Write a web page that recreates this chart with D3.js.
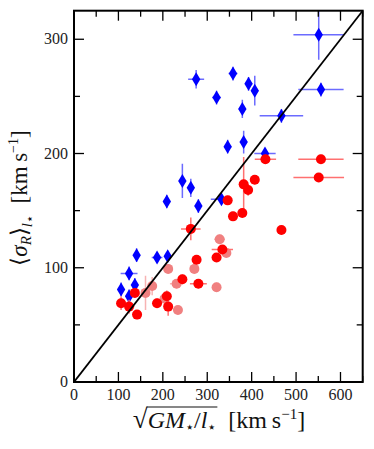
<!DOCTYPE html>
<html><head><meta charset="utf-8">
<script src="https://cdn.jsdelivr.net/npm/d3@7"></script>
<style>
body{margin:0;background:#fff}
svg{display:block}
svg text{font-family:"Liberation Serif",serif}
</style>
</head><body>
<svg id="c" width="374" height="449"></svg>
<script>
// Blue diamonds
const blueX    = [551,556,467,430,358,393,407,321,275,379,382,346,332,244,263,280,209,141,187,211,124,106,137,124];
const blueY    = [304,256,233,200,270,261,255,249,265,239,210,206,160,176,170,154,158,111,109,110,95,81,85,75];
const blueXerr = [57,51,49,24,10,8,8,10,18,8,6,8,24,8,6,8,4,4,12,6,19,4,6,4];
const blueYerr = [22,6,6,4,6,6,13,6,8,8,10,6,4,15,8,6,6,6,4,4,6,6,6,6];
// Red circles
const redX    = [556,551,431,407,382,392,346,379,358,467,263,334,321,276,280,244,187,209,212,137,106,124,142];
const redY    = [195,179,195,177,173,168,159,148,145,133,134,116,109,107,86,90,69,75,66,78,69,66,59];
const redXerr = [51,57,24,8,6,6,8,10,10,10,22,24,8,6,19,10,8,6,6,6,6,12,6];
const redYerr = [4,4,4,4,24,5,4,4,4,4,10,4,4,4,4,4,4,5,8,4,6,6,4];
// Light red circles
const pinkX    = [328,343,321,271,212,231,234,204,176,161];
const pinkY    = [125,113,83,99,99,86,63,73,84,78];
const pinkXerr = [12,6,4,10,4,15,4,6,8,10];
const pinkYerr = [4,4,4,4,4,4,4,6,8,15];

const xTicks = [0,100,200,300,400,500,600];
const yTicks = [0,100,200,300];
const xDomain = [0,650], yDomain = [0,325];

const svg = d3.select("#c");
const L = 74, R = 362.7, T = 10.7, B = 382;
const x = d3.scaleLinear().domain(xDomain).range([L,R]);
const y = d3.scaleLinear().domain(yDomain).range([B,T]);
const FF = "Liberation Serif";

const defs = svg.append("defs");
defs.append("clipPath").attr("id","clip").append("rect")
  .attr("x",L).attr("y",T).attr("width",R-L).attr("height",B-T);
const g = svg.append("g").attr("clip-path","url(#clip)");

function series(xs, ys, xe, ye, barColor, fill, shape){
  const d = xs.map((v,i)=>({x:v,y:ys[i],xe:xe[i],ye:ye[i]}));
  const gg = g.append("g");
  gg.selectAll(".h").data(d).enter().append("line")
    .attr("x1",p=>x(p.x-p.xe)).attr("x2",p=>x(p.x+p.xe))
    .attr("y1",p=>y(p.y)).attr("y2",p=>y(p.y))
    .attr("stroke",barColor).attr("stroke-width",1.5);
  gg.selectAll(".v").data(d).enter().append("line")
    .attr("x1",p=>x(p.x)).attr("x2",p=>x(p.x))
    .attr("y1",p=>y(p.y-p.ye)).attr("y2",p=>y(p.y+p.ye))
    .attr("stroke",barColor).attr("stroke-width",1.5);
  if(shape==="diamond"){
    gg.selectAll(".m").data(d).enter().append("path")
      .attr("d",p=>{const cx=x(p.x),cy=y(p.y);return `M${cx},${cy-7}L${cx+4.2},${cy}L${cx},${cy+7}L${cx-4.2},${cy}Z`;})
      .attr("fill",fill);
  } else {
    gg.selectAll(".m").data(d).enter().append("circle")
      .attr("cx",p=>x(p.x)).attr("cy",p=>y(p.y)).attr("r",5).attr("fill",fill);
  }
}
series(blueX,blueY,blueXerr,blueYerr,"#6b6bff","#0000ff","diamond");
series(pinkX,pinkY,pinkXerr,pinkYerr,"#f7b3b3","#f08080","circle");
series(redX,redY,redXerr,redYerr,"#ff7070","#ff0000","circle");

g.append("line").attr("x1",x(0)).attr("y1",y(0)).attr("x2",x(650)).attr("y2",y(325))
  .attr("stroke","#000").attr("stroke-width",1.8);

const tk = svg.append("g").attr("stroke","#000").attr("stroke-width",1.3);
d3.range(0,651,50).forEach(v=>{
  const len = v%100===0 ? 10 : 6;
  tk.append("line").attr("x1",x(v)).attr("x2",x(v)).attr("y1",B).attr("y2",B-len);
  tk.append("line").attr("x1",x(v)).attr("x2",x(v)).attr("y1",T).attr("y2",T+len);
});
d3.range(0,326,50).forEach(v=>{
  const len = v%100===0 ? 10 : 6;
  tk.append("line").attr("y1",y(v)).attr("y2",y(v)).attr("x1",L).attr("x2",L+len);
  tk.append("line").attr("y1",y(v)).attr("y2",y(v)).attr("x1",R).attr("x2",R-len);
});
svg.append("rect").attr("x",L).attr("y",T).attr("width",R-L).attr("height",B-T)
  .attr("fill","none").attr("stroke","#000").attr("stroke-width",2);

svg.append("g").selectAll("text").data(xTicks).enter().append("text")
  .attr("x",d=>x(d)).attr("y",400).attr("text-anchor","middle")
  .attr("font-family",FF).attr("font-size",16).attr("fill","#222").text(d=>d);
svg.append("g").selectAll("text").data(yTicks).enter().append("text")
  .attr("x",68).attr("y",d=>y(d)+5).attr("text-anchor","end")
  .attr("font-family",FF).attr("font-size",16).attr("fill","#222").text(d=>d);

// x label
const xl = svg.append("text").attr("y",428).attr("font-family",FF).attr("font-size",24).attr("fill","#111");
xl.append("tspan").attr("font-size",27).text("\u221A");
const inner = [];
inner.push(xl.append("tspan").attr("font-style","italic").text("GM"));
inner.push(xl.append("tspan").attr("font-size",15).attr("dy",4).text("\u22C6"));
inner.push(xl.append("tspan").attr("dy",-4).text("/"));
inner.push(xl.append("tspan").attr("font-style","italic").text("l"));
inner.push(xl.append("tspan").attr("font-size",15).attr("dy",4).text("\u22C6"));
xl.append("tspan").attr("dy",-4).text("\u2002[km\u2009s");
xl.append("tspan").attr("font-size",15).attr("dy",-9).text("\u22121");
xl.append("tspan").attr("dy",9).text("]");
let bw = 180;
try { bw = xl.node().getComputedTextLength(); } catch(e) {}
xl.attr("x", 219 - bw/2);
let sx = 137, ex = 226;
try {
  sx = inner[0].node().getStartPositionOfChar(0).x;
  ex = inner[4].node().getEndPositionOfChar(0).x;
} catch(e) {}
svg.append("line").attr("x1",sx-1).attr("x2",ex+1).attr("y1",407).attr("y2",407)
  .attr("stroke","#111").attr("stroke-width",1.2);

// y label
const yl = svg.append("text").attr("transform","translate(27,198) rotate(-90)")
  .attr("text-anchor","middle").attr("font-family",FF).attr("font-size",23).attr("fill","#111");
yl.append("tspan").text("\u27E8");
yl.append("tspan").attr("font-style","italic").text("\u03C3");
yl.append("tspan").attr("font-style","italic").attr("font-size",15).attr("dy",4).text("R");
yl.append("tspan").attr("dy",-4).text("\u27E9");
yl.append("tspan").attr("font-style","italic").attr("font-size",15).attr("dy",5).text("l");
yl.append("tspan").attr("font-size",13).attr("dy",2).text("\u22C6");
yl.append("tspan").attr("dy",-7).text("\u2002[km\u2009s");
yl.append("tspan").attr("font-size",14).attr("dy",-9).text("\u22121");
yl.append("tspan").attr("dy",9).text("]");
</script>
</body></html>
